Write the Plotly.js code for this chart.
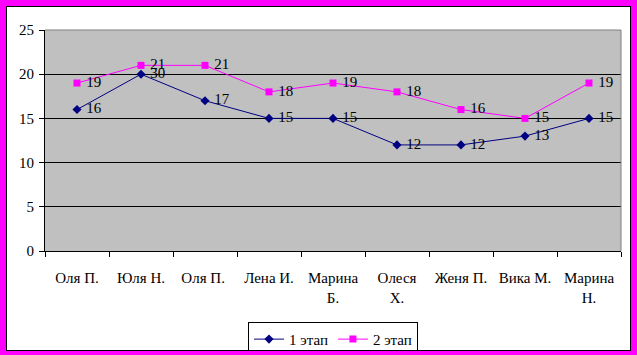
<!DOCTYPE html>
<html>
<head>
<meta charset="utf-8">
<script src="https://cdn.plot.ly/plotly-3.0.1.min.js"></script>
<style>
  html, body { margin: 0; padding: 0; }
  #wrap { position: relative; width: 637px; height: 355px; background: #FF00FF; }
  #plot { position: absolute; left: 6px; top: 6px; width: 623px; height: 343px; border: 1px solid #000; background: #fff; }
</style>
</head>
<body>
<div id="wrap"><div id="plot"></div></div>
<script>
const categories = ['Оля П.', 'Юля Н.', 'Оля П. ', 'Лена И.', 'Марина<br>Б.', 'Олеся<br>Х.', 'Женя П.', 'Вика М.', 'Марина<br>Н.'];
const stage1 = [16, 20, 17, 15, 15, 12, 12, 13, 15];
const stage1Labels = ['16', '30', '17', '15', '15', '12', '12', '13', '15'];
const stage2 = [19, 21, 21, 18, 19, 18, 16, 15, 19];
const stage2Labels = stage2.map(String);
const seriesNames = ['1 этап', '2 этап'];
const yTicks = [0, 5, 10, 15, 20, 25];

const serif = 'Liberation Serif, DejaVu Serif';
const font = { family: serif, size: 15, color: '#000' };
const labelFont = { family: serif, size: 15, color: '#000' };

const traces = [
  {
    x: categories, y: stage1, name: seriesNames[0], type: 'scatter', mode: 'lines+markers+text',
    text: stage1Labels.map(s => ' ' + s), textposition: 'middle right', textfont: labelFont,
    line: { color: '#000080', width: 1 },
    marker: { symbol: 'diamond', size: 7, color: '#000080' },
    cliponaxis: false
  },
  {
    x: categories, y: stage2, name: seriesNames[1], type: 'scatter', mode: 'lines+markers+text',
    text: stage2Labels.map(s => ' ' + s), textposition: 'middle right', textfont: labelFont,
    line: { color: '#FF00FF', width: 1 },
    marker: { symbol: 'square', size: 7, color: '#FF00FF' },
    cliponaxis: false
  }
];

const layout = {
  width: 623, height: 343,
  margin: { l: 38, r: 9, t: 23, b: 99, autoexpand: false },
  paper_bgcolor: '#ffffff',
  plot_bgcolor: '#C0C0C0',
  font: font,
  showlegend: true,
  legend: {
    orientation: 'h', x: 0.5, xanchor: 'center', y: 0.082, yref: 'container', yanchor: 'top',
    bordercolor: '#000', borderwidth: 1, bgcolor: '#fff', font: font,
    itemwidth: 30, tracegroupgap: 0
  },
  xaxis: {
    type: 'category', range: [-0.5, 8.5], showgrid: false, zeroline: false,
    showline: true, linecolor: '#000', linewidth: 1,
    ticks: 'outside', ticklen: 5, tickcolor: '#000', tickson: 'boundaries',
    tickfont: font, ticklabelstandoff: 13, fixedrange: true, automargin: false
  },
  yaxis: {
    range: [0, 25], tickvals: yTicks, showgrid: true, gridcolor: '#000', gridwidth: 1,
    zeroline: false, showline: true, linecolor: '#000', linewidth: 1,
    ticks: 'outside', ticklen: 5, tickcolor: '#000', tickfont: font,
    ticklabelstandoff: 2, fixedrange: true, automargin: false
  },
  shapes: [
    { type: 'line', xref: 'paper', yref: 'paper', x0: 0, x1: 1, y0: 1, y1: 1, line: { color: '#808080', width: 1 } },
    { type: 'line', xref: 'paper', yref: 'paper', x0: 1, x1: 1, y0: 0, y1: 1, line: { color: '#808080', width: 1 } }
  ]
};

Plotly.newPlot('plot', traces, layout, { displayModeBar: false, staticPlot: true });
</script>
</body>
</html>
